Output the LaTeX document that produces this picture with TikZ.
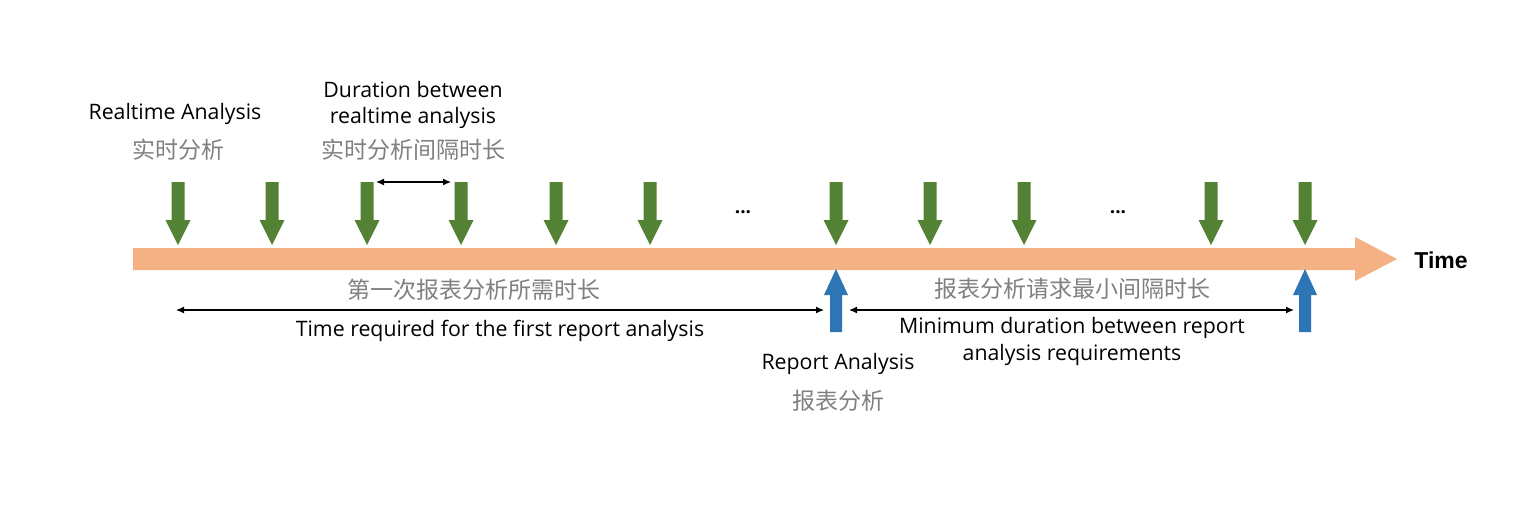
\documentclass[tikz,border=0pt]{standalone}
\usepackage{fontspec}
\setmainfont{Open Sans}
\newfontfamily\cjk{Noto Sans CJK SC}
\newfontfamily\boldlat{Liberation Sans}
\usetikzlibrary{arrows.meta}
\definecolor{rtgreen}{HTML}{548235}
\definecolor{tlorange}{HTML}{F4B183}
\definecolor{rpblue}{HTML}{2E75B6}
\definecolor{cngray}{HTML}{808080}
\tikzset{
  lat/.style={font=\fontsize{21.3}{25}\selectfont, text=black, inner sep=0pt},
  cn/.style={font=\cjk\fontsize{23}{27}\selectfont, text=cngray, inner sep=0pt},
  span/.style={draw=black, line width=1.2pt, {Latex[length=8pt,width=7pt]}-{Latex[length=8pt,width=7pt]}},
  garrow/.style={fill=rtgreen},
  barrow/.style={fill=rpblue},
}
\begin{document}
\begin{tikzpicture}[x=1pt,y=-1pt]
\useasboundingbox (0,0) rectangle (1533,507);
\fill[white] (0,0) rectangle (1533,507);
% timeline
\fill[tlorange] (133,248) -- (1355,248) -- (1355,237) -- (1397,259) -- (1355,281) -- (1355,270) -- (133,270) -- cycle;
\node[font=\boldlat\bfseries\fontsize{23}{26}\selectfont, inner sep=0pt] (time) at (1441,260) {Time};
% green arrows
\foreach \x [count=\i] in {178,272,367,461,556,650,836,930,1024,1211,1305}{
  \fill[garrow] (\x-6.5,182) -- (\x+6.5,182) -- (\x+6.5,220) -- (\x+12.5,220) -- (\x,245) -- (\x-12.5,220) -- (\x-6.5,220) -- cycle;
  \coordinate (g\i) at (\x,182);
}
\node[lat, font=\bfseries\fontsize{19}{20}\selectfont] (dots1) at (743,212) {...};
\node[lat, font=\bfseries\fontsize{19}{20}\selectfont] (dots2) at (1118,212) {...};
% blue arrows
\foreach \x [count=\i] in {836,1305}{
  \fill[barrow] (\x,269) -- (\x+12,295) -- (\x+6,295) -- (\x+6,332) -- (\x-6,332) -- (\x-6,295) -- (\x-12,295) -- cycle;
  \coordinate (b\i) at (\x,332);
}
% labels top
\node[lat] (rt) at (175,114) {Realtime Analysis};
\node[cn] (rtcn) at (178,150) {实时分析};
\node[lat] (dur1) at (413,90) {Duration between};
\node[lat] (dur2) at (413,118) {realtime analysis};
\node[cn] (durcn) at (413,150) {实时分析间隔时长};
\coordinate (d1) at (376,182);
\coordinate (d2) at (451,182);
\draw[span] (d1) -- (d2);
% first report span
\node[cn] (firstcn) at (474,290) {第一次报表分析所需时长};
\coordinate (f1) at (176,310);
\coordinate (f2) at (824,310);
\draw[span] (f1) -- (f2);
\node[lat] (first) at (500,331) {Time required for the first report analysis};
% min duration span
\node[cn] (mincn) at (1072,289) {报表分析请求最小间隔时长};
\coordinate (m1) at (849,310);
\coordinate (m2) at (1294,310);
\draw[span] (m1) -- (m2);
\node[lat] (min1) at (1072,328) {Minimum duration between report};
\node[lat] (min2) at (1072,355) {analysis requirements};
% report analysis
\node[lat] (rp) at (838,364) {Report Analysis};
\node[cn] (rpcn) at (838,401) {报表分析};
\end{tikzpicture}
\end{document}
